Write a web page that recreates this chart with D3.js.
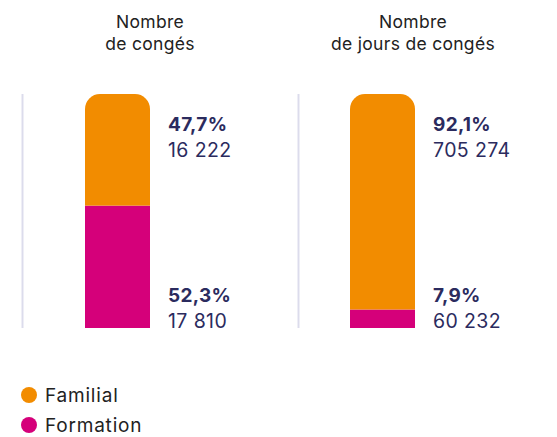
<!DOCTYPE html>
<html>
<head>
<meta charset="utf-8">
<script src="https://cdn.jsdelivr.net/npm/d3@7"></script>
<style>
  body { margin: 0; background: #fff; }
  svg { display: block; font-family: Inter, "Open Sans", sans-serif; }
</style>
</head>
<body>
<svg id="chart" width="557" height="437"></svg>
<script>
// data
const panels = ["Nombre de congés", "Nombre de jours de congés"];
const titleLines = [["Nombre", "de congés"], ["Nombre", "de jours de congés"]];
const categories = ["Familial", "Formation"];
const counts = {
  "Familial": [16222, 705274],
  "Formation": [17810, 60232]
};
const percents = {
  "Familial": [47.7, 92.1],
  "Formation": [52.3, 7.9]
};
const colors = { "Familial": "#f28c00", "Formation": "#d5007a" };

const svg = d3.select("#chart");
const loc = d3.formatLocale({ decimal: ",", thousands: "\u00a0", grouping: [3], currency: ["", " €"] });
const numFmt = loc.format(",d");
const pctFmt = v => loc.format(".1f")(v) + "%";

const y = d3.scaleLinear().domain([0, 100]).range([328, 94]);
const x = d3.scaleOrdinal().domain(panels).range([85, 350]);
const barW = 65;
const lineX = d3.scaleOrdinal().domain(panels).range([22.5, 298.5]);
const titleX = d3.scaleOrdinal().domain(panels).range([150, 413]);
const r = 15;

// stacked rows: Formation at bottom, Familial on top
const rows = panels.map((p, i) => {
  const row = { panel: p };
  categories.forEach(c => row[c] = percents[c][i]);
  return row;
});
const stack = d3.stack().keys(["Formation", "Familial"]);
const series = stack(rows);

const defs = svg.append("defs");
panels.forEach((p, i) => {
  const cp = defs.append("clipPath").attr("id", "clip" + i);
  cp.append("rect")
    .attr("x", x(p)).attr("y", y(100))
    .attr("width", barW).attr("height", y(0) - y(100))
    .attr("rx", r).attr("ry", r);
  cp.append("rect")
    .attr("x", x(p)).attr("y", y(100) + r)
    .attr("width", barW).attr("height", y(0) - y(100) - r);
});

// separator lines
svg.selectAll("line.sep")
  .data(panels)
  .enter().append("line")
  .attr("class", "sep")
  .attr("x1", d => lineX(d)).attr("x2", d => lineX(d))
  .attr("y1", y(100)).attr("y2", y(0))
  .attr("stroke", "#dcdcec")
  .attr("stroke-width", 2);

// titles
panels.forEach((p, i) => {
  const t = svg.append("text")
    .attr("x", titleX(p))
    .attr("text-anchor", "middle")
    .attr("fill", "#222")
    .style("font-size", "17.5px")
    .style("letter-spacing", "0.3px");
  titleLines[i].forEach((ln, j) => {
    t.append("tspan").attr("x", titleX(p)).attr("y", 28 + j * 22).text(ln);
  });
});

// bars
series.forEach(s => {
  svg.selectAll(null)
    .data(s)
    .enter().append("rect")
    .attr("clip-path", (d, i) => `url(#clip${i})`)
    .attr("x", d => x(d.data.panel))
    .attr("y", d => y(d[1]))
    .attr("width", barW)
    .attr("height", d => y(d[0]) - y(d[1]))
    .attr("fill", colors[s.key]);
});

// value labels
const labelY = { "Familial": [131, 157], "Formation": [302, 328] };
categories.forEach(c => {
  panels.forEach((p, i) => {
    const lx = x(p) + barW + 18;
    svg.append("text")
      .attr("x", lx).attr("y", labelY[c][0])
      .attr("fill", "#2b2b5e")
      .style("font-size", "19px").style("font-weight", 700)
      .style("letter-spacing", "0.3px")
      .text(pctFmt(percents[c][i]));
    svg.append("text")
      .attr("x", lx).attr("y", labelY[c][1])
      .attr("fill", "#2b2b5e")
      .style("font-size", "19.5px")
      .style("letter-spacing", "0.4px")
      .text(numFmt(counts[c][i]));
  });
});

// legend
const legend = svg.selectAll("g.legend")
  .data(categories)
  .enter().append("g")
  .attr("class", "legend")
  .attr("transform", (d, i) => `translate(29,${395 + i * 30})`);
legend.append("circle").attr("r", 8).attr("fill", d => colors[d]);
legend.append("text")
  .attr("x", 16).attr("y", 7)
  .attr("fill", "#222")
  .style("font-size", "19px")
  .style("letter-spacing", "0.8px")
  .text(d => d);
</script>
</body>
</html>
